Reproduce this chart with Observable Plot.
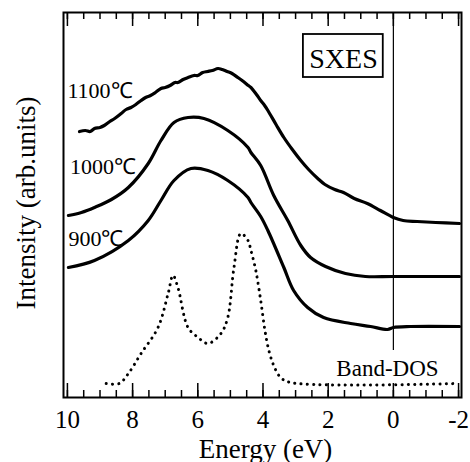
<!DOCTYPE html>
<html>
<head>
<meta charset="utf-8">
<script src="https://cdn.jsdelivr.net/npm/d3@7"></script>
<script src="https://cdn.jsdelivr.net/npm/@observablehq/plot@0.6"></script>
<style>
  html, body { margin: 0; padding: 0; background: white; }
  #chart svg { display: block; }
  #chart svg text { font-family: "Liberation Serif", "Times New Roman", Times, serif; }
</style>
</head>
<body>
<div id="chart"></div>
<script>
// Energy (eV) and intensity (arb. units)
const e1100 = [9.63, 9.45, 9.3, 9.17, 9.0, 8.87, 8.7, 8.55, 8.35, 8.2, 8.05, 7.9, 7.74, 7.6, 7.45, 7.3, 7.13, 7.0, 6.85, 6.7, 6.61, 6.45, 6.3, 6.12, 6.0, 5.85, 5.7, 5.55, 5.38, 5.25, 5.1, 4.95, 4.77, 4.6, 4.45, 4.37, 4.2, 4.07, 3.95, 3.85, 3.6, 3.36, 3.1, 2.84, 2.6, 2.32, 2.1, 1.8, 1.53, 1.2, 0.8, 0.4, 0.0, -0.3, -0.73, -1.3, -2.03];
const i1100 = [266, 267, 266, 269, 270, 272, 276, 279, 284, 288, 290, 293, 297, 300, 302, 305, 309, 310, 312, 315, 315, 318, 320, 322, 322, 325, 326, 327, 329, 328, 326, 324, 320, 316, 312, 310, 303, 297, 292, 287, 273, 260, 248, 237, 228, 219, 213, 208, 205, 199, 194, 187, 180, 177, 176, 175, 174];

const e1000 = [9.97, 9.57, 9.17, 8.65, 8.13, 7.52, 7.13, 6.73, 6.30, 5.81, 5.08, 4.46, 4.37, 4.07, 3.67, 3.24, 2.84, 2.54, 2.08, 1.47, 0.86, 0.0, -2.03];
const i1000 = [182, 185, 190, 198, 210, 234, 257, 275, 280, 279, 267, 250, 245, 232, 202, 177, 152, 140, 131, 124, 121, 121, 121];

const e900 = [9.97, 9.17, 8.13, 7.52, 7.13, 6.73, 6.21, 5.69, 5.08, 4.46, 4.37, 4.07, 3.85, 3.36, 3.06, 2.63, 2.14, 1.31, 0.70, 0.18, 0.0, -0.52, -2.03];
const i900 = [130, 137, 157, 177, 197, 217, 229, 227, 217, 200, 195, 181, 167, 130, 107, 90, 80, 74, 71, 68, 70, 71, 71];

const eDOS = [8.81, 8.41, 8.13, 7.74, 7.22, 6.91, 6.76, 6.61, 6.30, 5.99, 5.69, 5.29, 5.08, 4.89, 4.68, 4.46, 4.37, 4.22, 4.07, 3.94, 3.82, 3.67, 3.46, 3.15, -1.96];
const iDOS = [14, 14, 24, 44, 70, 104, 122, 110, 70, 60, 54, 64, 80, 130, 164, 157, 147, 127, 97, 67, 47, 32, 20, 15, 14];

const xTickLabels = [10, 8, 6, 4, 2, 0, -2];

const seriesLabels = ["1100℃", "1000℃", "900℃"];
const labelEnergy = [10.0, 9.92, 9.97];
const labelIntensity = [300, 224, 152];

const toRows = (E, I) => E.map((e, k) => ({e, i: I[k]}));
const solid = [toRows(e1100, i1100), toRows(e1000, i1000), toRows(e900, i900)];
const dos = toRows(eDOS, iDOS);

const minorTicks = d3.range(-2, 10.001, 0.5);
const majorTicks = xTickLabels;

const serif = "Liberation Serif";

const chart = Plot.plot({
  width: 470,
  height: 462,
  marginLeft: 63,
  marginRight: 9,
  marginTop: 12,
  marginBottom: 65,
  style: {fontFamily: serif, background: "white", color: "black"},
  x: {domain: [10.12, -2.09]},
  y: {domain: [0, 385], axis: null},
  marks: [
    Plot.frame({strokeWidth: 2}),
    // inward ticks, bottom and top
    Plot.ruleX(minorTicks, {x: d => d, y1: 0, y2: 7, strokeWidth: 1.5}),
    Plot.ruleX(minorTicks, {x: d => d, y1: 385, y2: 378, strokeWidth: 1.5}),
    Plot.ruleX(majorTicks, {x: d => d, y1: 0, y2: 14, strokeWidth: 1.5}),
    Plot.ruleX(majorTicks, {x: d => d, y1: 385, y2: 371, strokeWidth: 1.5}),
    Plot.axisX({ticks: xTickLabels, tickSize: 0, tickPadding: 13, fontSize: 25, fontFamily: serif, tickFormat: d => String(d), label: null}),
    Plot.text(["Energy (eV)"], {frameAnchor: "bottom", lineAnchor: "bottom", dy: 60, dx: 3, fontSize: 27, fontFamily: serif}),
    Plot.text(["Intensity (arb.units)"], {frameAnchor: "left", textAnchor: "middle", rotate: -90, lineAnchor: "bottom", dx: -29, dy: -2, fontSize: 27, fontFamily: serif}),
    // Fermi level
    Plot.ruleX([0], {y1: 47, y2: 385, strokeWidth: 1.2}),
    // spectra
    ...solid.map(rows => Plot.line(rows, {x: "e", y: "i", strokeWidth: 3.2, curve: "catmull-rom", strokeLinejoin: "round", strokeLinecap: "round"})),
    Plot.line(dos, {x: "e", y: "i", strokeWidth: 3, curve: "catmull-rom", strokeDasharray: "0.1,6.2", strokeLinecap: "round"}),
    // labels
    Plot.text(seriesLabels, {x: (d, k) => labelEnergy[k], y: (d, k) => labelIntensity[k], text: d => d, textAnchor: "start", lineAnchor: "bottom", fontSize: 22, fontFamily: serif}),
    Plot.rect([{x1: 2.76, x2: 0.31, y1: 320, y2: 363}], {x1: "x1", x2: "x2", y1: "y1", y2: "y2", fill: "none", stroke: "black", strokeWidth: 1.8}),
    Plot.text(["SXES"], {x: 1.53, y: 330, lineAnchor: "bottom", fontSize: 28, fontFamily: serif}),
    Plot.text(["Band-DOS"], {x: 1.75, y: 22, textAnchor: "start", lineAnchor: "bottom", fontSize: 23, fontFamily: serif})
  ]
});
document.getElementById("chart").appendChild(chart);
</script>
</body>
</html>
